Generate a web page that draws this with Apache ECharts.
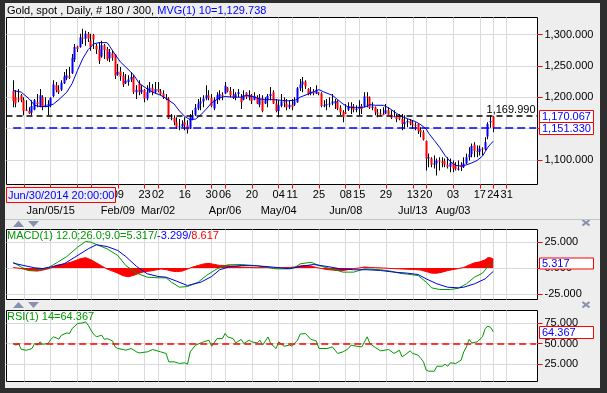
<!DOCTYPE html>
<html><head><meta charset="utf-8">
<script src="https://cdn.jsdelivr.net/npm/echarts@6/dist/echarts.min.js"></script>
<style>
html,body{margin:0;padding:0;background:#2e2e2e;}
#wrap{position:relative;width:607px;height:393px;background:#2e2e2e;overflow:hidden;}
#bg{position:absolute;left:5px;top:3px;width:595px;height:385px;background:#eeeeee;}
#c{position:absolute;left:0;top:0;width:607px;height:393px;}
</style>
</head><body>
<div id="wrap"><div id="bg"></div><div id="c"></div></div>
<script>
// ---------------- data ----------------
const firstCategory = '2014-12-12';   // first weekday slot on the time axis
const categoryCount = 198;            // weekday slots on the axis
const barOffset = 2;                  // first bar (Dec 16 2014) slot

const opens  = [1210,1200,1198,1203,1195,1180,1178,1175,1180,1192,1185,1200,1185,1186,1187,1202,1219,1212,1212,1222,
1230,1234,1238,1260,1281,1280,1295,1293,1301,1290,1299,1282,1276,1265,1283,1277,1262,1270,1268,1236,
1241,1234,1222,1224,1228,1232,1208,1222,1208,1212,1198,1208,1215,1208,1213,1209,1206,1199,1198,1166,
1167,1160,1152,1153,1160,1155,1150,1165,1172,1182,1190,1193,1198,1203,1199,1182,1196,1198,1204,1206,
1215,1210,1203,1199,1205,1200,1196,1207,1200,1203,1196,1200,1188,1198,1190,1195,1202,1208,1190,1178,
1186,1193,1190,1184,1188,1188,1192,1214,1220,1225,1213,1205,1209,1206,1207,1206,1186,1187,1189,1190,
1190,1193,1183,1176,1176,1180,1186,1185,1180,1181,1186,1185,1201,1200,1183,1184,1176,1174,1173,1174,
1179,1172,1169,1170,1170,1165,1157,1160,1162,1158,1156,1157,1148,1144,1130,1102,1102,1092,1094,1099,
1097,1098,1092,1089,1095,1090,1085,1092,1088,1094,1104,1109,1124,1114,1113,1118,1117,1137,1160,1169];
const highs  = [1227,1211,1213,1205,1200,1195,1184,1195,1197,1205,1213,1203,1200,1195,1200,1227,1224,1219,1227,1240,
1245,1248,1269,1285,1282,1301,1309,1306,1304,1301,1301,1285,1288,1290,1285,1280,1277,1274,1269,1253,
1248,1240,1237,1235,1240,1235,1219,1227,1219,1213,1219,1224,1221,1224,1224,1213,1211,1205,1200,1173,
1171,1168,1165,1163,1168,1163,1173,1179,1189,1197,1200,1203,1219,1211,1205,1200,1208,1211,1208,1224,
1216,1216,1213,1208,1213,1205,1211,1208,1211,1205,1208,1203,1205,1203,1200,1205,1216,1211,1197,1195,
1205,1200,1197,1195,1197,1200,1216,1229,1232,1227,1214,1216,1213,1219,1208,1208,1195,1197,1200,1205,
1197,1195,1187,1179,1189,1192,1192,1189,1187,1195,1189,1208,1208,1201,1192,1185,1181,1181,1184,1189,
1184,1179,1179,1173,1173,1173,1171,1165,1165,1163,1160,1158,1152,1147,1131,1110,1104,1107,1102,1104,
1104,1102,1104,1102,1099,1096,1099,1096,1104,1110,1120,1126,1128,1123,1123,1120,1136,1160,1171,1170];
const lows   = [1184,1184,1192,1192,1171,1178,1173,1171,1179,1184,1184,1179,1184,1171,1184,1200,1208,1205,1210,1221,
1227,1229,1237,1256,1272,1279,1285,1282,1288,1274,1277,1269,1253,1263,1261,1258,1256,1258,1229,1234,
1226,1216,1221,1218,1224,1205,1197,1203,1205,1192,1195,1207,1203,1205,1208,1203,1197,1195,1165,1163,
1155,1149,1147,1152,1147,1142,1149,1163,1170,1179,1179,1184,1195,1195,1184,1179,1189,1195,1195,1205,
1208,1200,1197,1195,1200,1181,1195,1197,1195,1189,1195,1189,1184,1176,1189,1184,1195,1189,1176,1168,
1184,1184,1179,1181,1179,1186,1191,1210,1208,1213,1203,1203,1203,1205,1203,1184,1184,1179,1184,1187,
1181,1179,1171,1160,1173,1178,1173,1176,1176,1171,1173,1184,1184,1181,1179,1171,1168,1171,1171,1173,
1171,1165,1168,1160,1163,1147,1149,1152,1155,1149,1147,1141,1136,1131,1083,1088,1088,1086,1075,1083,
1088,1088,1086,1080,1080,1083,1083,1082,1087,1093,1099,1104,1104,1104,1107,1107,1115,1133,1151,1144];
const closes = [1194,1190,1196,1195,1178,1179,1174,1186,1195,1189,1203,1184,1188,1189,1199,1220,1211,1208,1223,1233,
1235,1231,1263,1280,1277,1295,1293,1301,1293,1280,1292,1276,1258,1283,1275,1260,1272,1263,1234,1240,
1233,1220,1226,1228,1232,1208,1212,1208,1212,1198,1208,1215,1208,1213,1210,1205,1200,1198,1166,1167,
1160,1152,1153,1157,1155,1148,1168,1171,1183,1190,1193,1198,1203,1199,1186,1196,1203,1205,1201,1218,
1210,1203,1199,1205,1208,1192,1203,1200,1204,1194,1202,1190,1198,1178,1195,1202,1205,1190,1178,1187,
1193,1191,1184,1188,1184,1193,1214,1220,1225,1217,1205,1209,1206,1212,1206,1186,1187,1189,1190,1193,
1194,1182,1176,1168,1174,1186,1185,1180,1181,1185,1181,1201,1200,1183,1185,1176,1174,1173,1172,1179,
1172,1167,1170,1165,1165,1157,1160,1162,1158,1156,1155,1146,1144,1132,1102,1104,1092,1094,1099,1097,
1095,1092,1089,1095,1086,1085,1086,1088,1094,1104,1109,1122,1114,1113,1118,1117,1128,1157,1162,1151.33];

// indicator readings: [bar index, value]
const maPoints = [[0,1210.6],[3,1208],[6,1197],[8,1187],[10,1185],[13,1185],[15,1189],[17,1196],[20,1208],[22,1222],
[24,1243],[26,1262],[28,1276],[30,1285],[32,1287],[35,1287],[36,1281],[38,1268],[40,1256],[42,1248],[45,1235],
[47,1222],[50,1213],[52,1208],[55,1203],[57,1198],[60,1189],[62,1178],[64,1169],[66,1164],[68,1165],[70,1172],
[72,1181],[74,1191],[77,1199],[79,1201],[82,1200],[85,1200],[87,1203],[90,1200],[92,1197],[95,1196],[97,1196],
[100,1195],[102,1194],[105,1195],[106,1197],[107,1200],[110,1205],[114,1212],[116,1208],[119,1203],[121,1196],
[123,1189],[125,1184],[128,1183],[131,1184],[133,1188],[135,1187],[138,1187],[140,1183],[143,1174],[145,1169],
[148,1164],[150,1161],[152,1156],[154,1149],[155,1142],[157,1131],[159,1120],[161,1107],[163,1097],[165,1091],
[167,1090],[169,1092],[171,1095],[173,1099],[175,1106],[176,1113],[177,1120],[178,1125],[179,1129.738]];
const macdPoints = [[0,5.6],[3,0.8],[6,-2.4],[9,-1.8],[13,0.2],[16,4.7],[20,11.1],[24,20.2],[27,25.7],[29,25],
[31,22.8],[35,18.6],[39,12.1],[42,2.4],[46,-5],[50,-8.9],[54,-9.5],[57,-9.5],[59,-13.7],[62,-18.6],[65,-17.9],
[69,-13.7],[72,-7.3],[76,-0.8],[80,3.1],[85,3.4],[90,2.4],[95,0.8],[98,-0.8],[102,-0.8],[105,0.5],[107,4],
[111,5.6],[115,1.5],[120,-1.7],[123,-4],[127,-4],[131,-0.8],[133,-1.1],[137,-1.7],[141,-3.1],[144,-5],[148,-6.3],
[151,-7.3],[154,-13.7],[156,-19.2],[159,-20.8],[163,-20.8],[166,-19.6],[169,-15.3],[172,-8.9],[175,-5],[177,1.5],
[178,3.5],[179,5.317]];
const signalPoints = [[0,4.7],[4,2.4],[8,0.2],[11,-0.5],[15,1.5],[19,4.1],[23,10.5],[28,18.6],[31,22.5],[35,20.8],
[39,17],[42,11.1],[46,1.5],[50,-5.6],[54,-8.2],[57,-8.9],[61,-12.8],[65,-17],[70,-13.7],[74,-8.2],[77,-1.7],
[81,1.5],[85,2.4],[91,2.1],[97,0.8],[103,-0.8],[107,1.5],[112,3.4],[117,1.5],[122,-0.8],[127,-1.7],[132,-1.7],
[137,-2.4],[142,-4],[147,-5],[151,-6.3],[154,-10.5],[158,-15.3],[162,-18.6],[166,-19.2],[168,-18.6],[172,-15.3],
[176,-10.5],[179,-3.299]];
const histPoints = [[0,0.5],[3,-0.5],[6,-2.5],[9,-3],[12,-1.5],[14,0],[16,2.5],[19,4],[22,6],[25,9],[27,10],[29,8],
[31,5],[33,2],[35,-1],[37,-3],[39,-5],[41,-7.5],[43,-8.5],[45,-7],[47,-5],[49,-3.5],[51,-3],[53,-2],[55,-1],
[57,-1.5],[59,-3],[61,-3.5],[63,-3],[65,-1],[67,1],[69,2.5],[71,4],[73,4.5],[75,3.5],[77,2.5],[79,2.5],[81,2],
[83,1.5],[85,1],[88,0.5],[91,0.3],[94,0.5],[97,0],[100,0.3],[103,0.5],[105,1],[107,2],[109,2.5],[111,2],[113,0.5],
[115,-0.5],[117,-1.5],[119,-2],[121,-2.5],[123,-2.5],[125,-1.5],[127,-0.5],[129,0],[131,1],[133,0.5],[135,0.3],
[138,0],[141,-0.5],[144,-0.8],[147,-1.2],[150,-1.5],[152,-2],[154,-3.5],[156,-5],[158,-5],[160,-4],[162,-2.5],
[164,-1.5],[166,-0.5],[168,0.5],[170,3],[172,5],[174,6],[176,8],[177,10],[178,9.9],[179,8.617]];
const rsiPoints = [[0,50],[1,48],[2,50],[3,42.6],[5,41.7],[7,43.8],[8,50],[9,47.9],[10,52],[11,49],[13,50],[14,55],
[15,58],[16,57],[17,55.3],[18,60.2],[20,63],[21,62.3],[22,68.5],[23,71.3],[24,74.6],[26,75.4],[27,76.6],[28,72.5],
[29,66.4],[30,61.5],[31,58.2],[33,60.2],[34,55],[35,56],[37,53.2],[38,45.8],[39,43.8],[41,42.6],[42,41.7],[44,43.8],
[46,39.7],[47,38.4],[50,39.7],[52,42.6],[55,39.7],[57,37.7],[58,27.4],[60,27.4],[62,25.4],[64,26.2],[65,24.5],
[66,39.7],[68,47.9],[70,50.7],[71,52],[73,54],[74,46.6],[76,56],[78,56],[79,62.3],[80,58],[82,56],[83,50.7],
[85,55],[86,50],[88,54],[89,52],[91,50.7],[92,54],[93,48],[95,58],[96,50],[98,43.8],[99,52],[101,46.6],[103,48],
[104,46.6],[106,54],[107,61.5],[109,62.3],[111,55],[113,53.2],[114,43.8],[117,43.8],[119,45.8],[121,37.7],
[123,39.7],[125,43.8],[126,48],[128,46.6],[130,45.8],[132,58.2],[133,50],[135,45],[137,40.9],[140,42.6],[142,37.7],
[144,41.7],[145,33.6],[146,35.6],[148,40.9],[149,37.7],[151,35.6],[152,31.5],[153,27.4],[154,17.1],[155,15.9],
[157,15.9],[158,22],[160,22],[161,24.5],[162,22],[163,26.2],[165,25.4],[167,29.4],[168,39.7],[169,45.8],[170,55],
[171,50.7],[173,52],[175,58.2],[176,68.5],[177,71.3],[178,70],[179,64.367]];

const refLevel = 1169.99;          // black dashed level
const lastPrice = 1151.33;         // blue dashed level
const priceBoxes = [1170.067, 1151.33];
const macdLast = 5.317, signalLast = -3.299, histLast = 8.617;
const rsiLast = 64.367, rsiMid = 50;
const maLast = 1129.738;

const priceTicks = [1100, 1150, 1200, 1250, 1300];
const macdTicks = [-25, 0, 25];
const rsiTicks = [25, 50, 75];

const tickDates = ['2014-12-22','2015-01-05','2015-01-19','2015-01-26','2015-02-09','2015-02-23','2015-03-02',
'2015-03-16','2015-03-30','2015-04-06','2015-04-20','2015-05-04','2015-05-11','2015-05-25','2015-06-08','2015-06-15',
'2015-06-29','2015-07-13','2015-07-20','2015-08-03','2015-08-17','2015-08-24','2015-08-31'];
const monthLabels = {'2015-01-05':'Jan/05/15','2015-02-09':'Feb/09','2015-03-02':'Mar/02','2015-04-06':'Apr/06',
'2015-05-04':'May/04','2015-06-08':'Jun/08','2015-07-13':'Jul/13','2015-08-03':'Aug/03'};
const cursorLabel = 'Jun/30/2014 20:00:00';

// ---------------- build ----------------
const FONT = '"Liberation Sans", Arial, sans-serif';
const GREEN = '#009900', BLUE = '#0000ff', RED = '#ff0000', GRID = '#dadada', ICON = '#8791ad';

function buildCats(){
  const out = []; const p = firstCategory.split('-').map(Number);
  const d = new Date(Date.UTC(p[0], p[1]-1, p[2]));
  while (out.length < categoryCount) {
    const wd = d.getUTCDay();
    if (wd !== 0 && wd !== 6) out.push(d.toISOString().slice(0,10));
    d.setUTCDate(d.getUTCDate()+1);
  }
  return out;
}
const cats = buildCats();
const tickSet = new Set(tickDates);
function sparse(points){
  const arr = new Array(cats.length).fill(null);
  points.forEach(([i,v]) => { arr[i+barOffset] = v; });
  return arr;
}
const fmt = v => v.toLocaleString('en-US',{minimumFractionDigits:3, maximumFractionDigits:3});
const candleData = opens.map((o,i) => [i+barOffset, o, highs[i], lows[i], closes[i]]);

const gridRight = 69.5;
const grids = [
  {left:6.5, right:gridRight, top:17.5, height:167},
  {left:6.5, right:gridRight, top:229.5, height:70},
  {left:6.5, right:gridRight, top:310.5, height:71}
].map(g => Object.assign(g, {show:true, backgroundColor:'#ffffff', borderColor:'#000', borderWidth:1, containLabel:false}));

const tickFn = (idx, val) => tickSet.has(val);
function hiddenX(gi){
  return {type:'category', gridIndex:gi, data:cats, boundaryGap:true,
    axisLine:{show:false}, axisTick:{show:false}, axisLabel:{show:false},
    splitLine:{show:true, interval:tickFn, alignWithLabel:true, lineStyle:{color:GRID, width:1}}};
}
function yAx(gi, min, max, ticks){
  return {type:'value', gridIndex:gi, position:'right', min:min, max:max, scale:true,
    axisLine:{show:false},
    axisTick:{show:true, customValues:ticks, length:5, lineStyle:{color:RED, width:1}},
    axisLabel:{show:true, customValues:ticks, formatter:v=>fmt(v), color:'#000', fontSize:11, fontFamily:FONT, margin:7},
    splitLine:{show:true, customValues:ticks, lineStyle:{color:GRID, width:1}}};
}

const option = {
  animation:false,
  backgroundColor:'transparent',
  grid: grids,
  xAxis: [
    {type:'category', gridIndex:0, data:cats, boundaryGap:true, position:'bottom',
      axisLine:{show:false},
      axisTick:{show:true, interval:tickFn, alignWithLabel:true, length:4, lineStyle:{color:RED}},
      axisLabel:{show:true, interval:tickFn, formatter:v=>v.slice(8,10), color:'#000', fontSize:11, fontFamily:FONT, margin:5},
      splitLine:{show:true, interval:tickFn, alignWithLabel:true, lineStyle:{color:GRID, width:1}}},
    {type:'category', gridIndex:0, data:cats, boundaryGap:true, position:'bottom', offset:0,
      axisLine:{show:false}, axisTick:{show:false}, splitLine:{show:false},
      axisLabel:{show:true, interval:(i,v)=>monthLabels[v]!==undefined, formatter:v=>monthLabels[v]||'', color:'#000', fontSize:11, fontFamily:FONT, margin:21}},
    hiddenX(1),
    hiddenX(2)
  ],
  yAxis: [
    yAx(0, 1060.6, 1327.1, priceTicks),
    yAx(1, -30.5, 37.3, macdTicks),
    yAx(2, 3.2, 90.6, rsiTicks)
  ],
  series: [
    {type:'custom', name:'Gold', xAxisIndex:0, yAxisIndex:0, clip:true, data:candleData,
      encode:{x:0, y:[1,2,3,4]},
      renderItem:function(params, api){
        const xi = api.value(0), o = api.value(1), h = api.value(2), l = api.value(3), c = api.value(4);
        const pO = api.coord([xi,o]), pC = api.coord([xi,c]), pH = api.coord([xi,h]), pL = api.coord([xi,l]);
        const x0 = Math.floor(pO[0]);
        const col = c > o ? BLUE : (c < o ? RED : '#000');
        return {type:'group', children:[
          {type:'rect', shape:{x:x0, y:pH[1], width:1, height:pL[1]-pH[1]}, style:{fill:'#000'}},
          {type:'rect', shape:{x:x0-0.5, y:Math.min(pO[1],pC[1]), width:2, height:Math.max(1, Math.abs(pO[1]-pC[1]))}, style:{fill:col}}
        ]};
      }},
    {type:'line', name:'MVG', xAxisIndex:0, yAxisIndex:0, data:sparse(maPoints), connectNulls:true,
      symbol:'none', lineStyle:{color:'#0000e0', width:1},
      markLine:{silent:true, symbol:['none','none'], label:{show:false},
        data:[
          {yAxis:refLevel, lineStyle:{color:'#000', type:[6,4], width:1.5},
            label:{show:true, position:'insideEndTop', formatter:fmt(refLevel), color:'#000', fontSize:11, fontFamily:FONT, distance:[2,0]}},
          [{coord:[cats[barOffset], lastPrice], lineStyle:{color:'#0000ff', type:[8,4], width:1.5}},
           {coord:[cats[cats.length-1], lastPrice]}]
        ]}},
    {type:'line', name:'hist', xAxisIndex:2, yAxisIndex:1, data:sparse(histPoints), connectNulls:true,
      symbol:'none', lineStyle:{color:RED, width:1}, areaStyle:{color:RED, opacity:1}},
    {type:'line', name:'macd', xAxisIndex:2, yAxisIndex:1, data:sparse(macdPoints), connectNulls:true,
      symbol:'none', lineStyle:{color:GREEN, width:1}},
    {type:'line', name:'signal', xAxisIndex:2, yAxisIndex:1, data:sparse(signalPoints), connectNulls:true,
      symbol:'none', lineStyle:{color:'#0000e0', width:1}},
    {type:'line', name:'rsi', xAxisIndex:3, yAxisIndex:2, data:sparse(rsiPoints), connectNulls:true,
      symbol:'none', lineStyle:{color:GREEN, width:1},
      markLine:{silent:true, symbol:['none','none'], label:{show:false},
        data:[[{coord:[cats[barOffset], rsiMid], lineStyle:{color:RED, type:[7,4], width:1.5}},
               {coord:[cats[cats.length-1], rsiMid]}]]}}
  ]
};

const chart = echarts.init(document.getElementById('c'), null, {renderer:'canvas'});
chart.setOption(option);

// ------------- overlay texts and boxes -------------
function valueBox(yIndex, value, h){
  const y = Math.round(chart.convertToPixel({yAxisIndex:yIndex}, value)) + 0.5;
  return [
    {type:'rect', z:60, shape:{x:539.5, y:y - h/2, width:54, height:h}, style:{fill:'#ffffff', stroke:RED, lineWidth:1}},
    {type:'text', z:61, x:542, y:y+0.5, style:{text:fmt(value), fill:BLUE, font:'11px '+FONT, verticalAlign:'middle', align:'left'}}
  ];
}
function tri(points){ return {type:'polygon', z:60, shape:{points:points}, style:{fill:ICON}}; }
function cross(x,y){
  return {type:'group', z:60, children:[
    {type:'line', shape:{x1:x, y1:y, x2:x+7, y2:y+5.5}, style:{stroke:ICON, lineWidth:2.2}},
    {type:'line', shape:{x1:x+7, y1:y, x2:x, y2:y+5.5}, style:{stroke:ICON, lineWidth:2.2}}
  ]};
}
const g = [];
g.push({type:'text', z:60, x:7, y:11, style:{text:'{k|Gold, spot , Daily, # 180 / 300, }{b|MVG(1) 10='+fmt(maLast)+'}',
  font:'11px '+FONT, verticalAlign:'middle', rich:{k:{fill:'#000', font:'11px '+FONT}, b:{fill:BLUE, font:'11px '+FONT}}}});
g.push({type:'text', z:60, x:7, y:236, style:{text:'{g|MACD(1) 12.0;26.0;9.0='+fmt(macdLast)+'/}{b|'+fmt(signalLast)+'/}{r|'+fmt(histLast)+'}',
  font:'11px '+FONT, verticalAlign:'middle', rich:{g:{fill:GREEN, font:'11px '+FONT}, b:{fill:BLUE, font:'11px '+FONT}, r:{fill:RED, font:'11px '+FONT}}}});
g.push({type:'text', z:60, x:7, y:317, style:{text:'RSI(1) 14='+fmt(rsiLast), fill:GREEN, font:'11px '+FONT, verticalAlign:'middle'}});
// cursor date box
g.push({type:'rect', z:60, shape:{x:6.5, y:187.5, width:109, height:15}, style:{fill:'#eeeeee', stroke:RED, lineWidth:1}});
g.push({type:'text', z:61, x:8, y:195.5, style:{text:cursorLabel, fill:BLUE, font:'11px '+FONT, verticalAlign:'middle'}});
// separator
g.push({type:'line', z:5, shape:{x1:5, y1:219.5, x2:600, y2:219.5}, style:{stroke:'#c4c4c4', lineWidth:1}});
// panel icons
g.push(tri([[13,227],[24,227],[18.5,220.5]]), tri([[28,221],[39,221],[33.5,227]]));
g.push(tri([[13,308],[24,308],[18.5,302]]), tri([[28,302],[39,302],[33.5,308]]));
g.push(cross(582.5,220), cross(582.5,302));
// value boxes
priceBoxes.forEach(v => g.push(...valueBox(0, v, 12)));
g.push(...valueBox(1, macdLast, 11));
g.push(...valueBox(2, rsiLast, 12));
chart.setOption({graphic:g});
</script>
</body></html>
